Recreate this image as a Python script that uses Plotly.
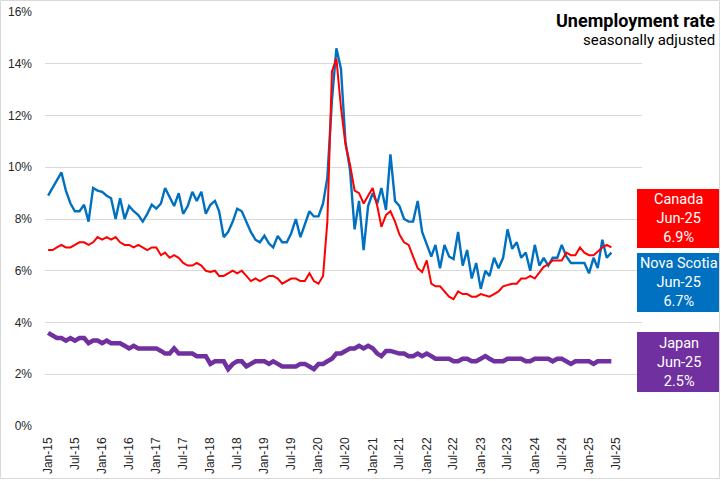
import pandas as pd
import plotly.graph_objects as go

start_month = "2015-01-01"

canada = [6.8, 6.8, 6.9, 7.0, 6.9, 6.9, 7.0, 7.1, 7.1, 7.0, 7.1, 7.3,
          7.2, 7.3, 7.2, 7.3, 7.1, 7.0, 7.0, 6.9, 7.0, 6.9, 6.8, 6.9,
          6.9, 6.6, 6.7, 6.5, 6.6, 6.5, 6.3, 6.2, 6.2, 6.3, 6.2, 6.0,
          5.95, 6.0, 5.8, 5.8, 5.9, 6.0, 5.9, 6.0, 5.8, 5.6, 5.7, 5.6,
          5.7, 5.8, 5.8, 5.7, 5.5, 5.6, 5.7, 5.7, 5.6, 5.6, 5.9, 5.6,
          5.5, 5.8, 7.9, 13.7, 14.2, 12.3, 10.9, 10.1, 9.1, 9.0, 8.6, 8.9,
          9.2, 8.5, 7.7, 8.15, 8.3, 7.9, 7.4, 7.1, 7.0, 6.55, 6.1, 5.95,
          6.4, 5.5, 5.4, 5.4, 5.2, 5.0, 4.9, 5.2, 5.1, 5.1, 5.0, 5.0,
          5.1, 5.05, 5.0, 5.1, 5.2, 5.4, 5.45, 5.5, 5.5, 5.7, 5.7, 5.8,
          5.7, 5.95, 6.15, 6.25, 6.4, 6.4, 6.4, 6.7, 6.6, 6.6, 6.9, 6.7,
          6.6, 6.6, 6.75, 6.9, 7.0, 6.9]

nova_scotia = [8.9, 9.2, 9.5, 9.8, 9.1, 8.6, 8.3, 8.3, 8.55, 7.9, 9.2, 9.1,
               9.05, 8.9, 8.8, 8.0, 8.8, 8.0, 8.5, 8.3, 8.15, 7.9, 8.2, 8.55,
               8.4, 8.6, 9.2, 8.85, 8.5, 9.0, 8.2, 8.5, 9.05, 8.7, 9.05, 8.2,
               8.55, 8.7, 8.3, 7.3, 7.5, 7.9, 8.4, 8.3, 7.9, 7.5, 7.2, 7.1,
               7.35, 7.05, 6.9, 7.35, 7.1, 7.1, 7.45, 8.0, 7.3, 7.8, 8.3, 8.1,
               8.1, 8.6, 9.6, 12.6, 14.6, 13.8, 11.0, 9.9, 7.6, 8.7, 6.8, 8.5,
               9.0, 8.6, 9.2, 8.35, 10.5, 8.7, 8.5, 8.0, 7.9, 7.9, 8.7, 7.5,
               7.0, 6.55, 7.0, 6.1, 7.0, 6.55, 6.45, 7.5, 6.2, 6.8, 5.7, 6.3,
               5.3, 6.0, 5.8, 6.5, 6.1, 6.5, 7.6, 6.85, 7.1, 6.5, 6.7, 6.0,
               7.0, 6.2, 6.5, 6.2, 6.5, 6.5, 7.0, 6.55, 6.3, 6.3, 6.3, 6.3,
               5.9, 6.5, 6.1, 7.2, 6.5, 6.7]

japan = [3.6, 3.5, 3.4, 3.4, 3.3, 3.4, 3.3, 3.4, 3.4, 3.2, 3.3, 3.3,
         3.2, 3.3, 3.2, 3.2, 3.2, 3.1, 3.0, 3.1, 3.0, 3.0, 3.0, 3.0,
         3.0, 2.9, 2.8, 2.8, 3.0, 2.8, 2.8, 2.8, 2.8, 2.7, 2.7, 2.7,
         2.4, 2.5, 2.5, 2.5, 2.2, 2.4, 2.5, 2.5, 2.3, 2.4, 2.5, 2.5,
         2.5, 2.4, 2.5, 2.4, 2.3, 2.3, 2.3, 2.3, 2.4, 2.4, 2.3, 2.2,
         2.4, 2.4, 2.5, 2.6, 2.8, 2.8, 2.9, 3.0, 3.0, 3.1, 3.0, 3.1,
         3.0, 2.8, 2.7, 2.9, 2.9, 2.85, 2.8, 2.8, 2.7, 2.7, 2.8, 2.7,
         2.8, 2.7, 2.6, 2.6, 2.6, 2.6, 2.5, 2.5, 2.6, 2.6, 2.5, 2.5,
         2.6, 2.7, 2.6, 2.5, 2.5, 2.5, 2.6, 2.6, 2.6, 2.6, 2.5, 2.5,
         2.6, 2.6, 2.6, 2.6, 2.5, 2.6, 2.6, 2.5, 2.4, 2.5, 2.5, 2.5,
         2.5, 2.4, 2.5, 2.5, 2.5, 2.5]

y_ticks = [0, 2, 4, 6, 8, 10, 12, 14, 16]
y_tick_text = [f"{v}%" for v in y_ticks]

labels = [
    ("Canada", "Jun-25", "6.9%", "#FF0000", 189, 248),
    ("Nova Scotia", "Jun-25", "6.7%", "#0070C0", 253, 312),
    ("Japan", "Jun-25", "2.5%", "#7030A0", 332, 392),
]

months = pd.date_range(start_month, periods=len(canada), freq="MS")

W, H = 721, 481
L, R, T, B = 45, 642, 12, 426  # plot area in pixels


def px_x(p):
    return (p - L) / (R - L)


def px_y(p):
    return (B - p) / (B - T)


fig = go.Figure()
fig.add_trace(go.Scatter(x=months, y=nova_scotia, mode="lines", name="Nova Scotia",
                         line=dict(color="#0070C0", width=2.4)))
fig.add_trace(go.Scatter(x=months, y=canada, mode="lines", name="Canada",
                         line=dict(color="#FF0000", width=2.0)))
fig.add_trace(go.Scatter(x=months, y=japan, mode="lines", name="Japan",
                         line=dict(color="#7030A0", width=4.5)))

shapes = []
annotations = []
for name, month, val, color, top, bottom in labels:
    shapes.append(dict(type="rect", xref="paper", yref="paper",
                       x0=px_x(637), x1=px_x(720), y0=px_y(bottom), y1=px_y(top),
                       fillcolor=color, line=dict(width=0), layer="above"))
    annotations.append(dict(xref="paper", yref="paper", x=px_x(678.5),
                            y=px_y((top + bottom) / 2), xanchor="center", yanchor="middle",
                            text=f"{name}<br>{month}<br>{val}", showarrow=False,
                            font=dict(family="Roboto", size=14.5, color="white"),
                            align="center"))

# chart border
shapes.append(dict(type="rect", xref="paper", yref="paper",
                   x0=px_x(0.5), x1=px_x(719.5), y0=px_y(478.5), y1=px_y(0.5),
                   line=dict(color="#D9D9D9", width=1), fillcolor="rgba(0,0,0,0)"))

annotations.append(dict(xref="paper", yref="paper", x=px_x(717), y=px_y(21),
                        xanchor="right", yanchor="middle", showarrow=False,
                        text="<b>Unemployment rate</b>",
                        font=dict(family="Roboto", size=18, color="black")))
annotations.append(dict(xref="paper", yref="paper", x=px_x(717), y=px_y(40),
                        xanchor="right", yanchor="middle", showarrow=False,
                        text="seasonally adjusted",
                        font=dict(family="Roboto", size=15, color="black")))

fig.update_layout(
    width=W, height=H,
    margin=dict(l=L, r=W - R, t=T, b=H - B, pad=0, autoexpand=False),
    paper_bgcolor="white", plot_bgcolor="white",
    showlegend=False, hovermode=False,
    shapes=shapes, annotations=annotations,
    font=dict(family="Liberation Sans", size=12, color="#404040"),
)
fig.update_xaxes(
    type="date", range=["2014-12-11", "2025-12-25"],
    tick0="2015-01-01", dtick="M6", tickformat="%b-%y", tickangle=-90,
    showgrid=False, zeroline=False, showline=False, ticks="",
    ticklabelstandoff=8, automargin=False,
    tickfont=dict(family="Liberation Sans", size=12, color="#262626"),
)
fig.update_yaxes(
    range=[0, 16], tickmode="array", tickvals=y_ticks, ticktext=y_tick_text,
    showgrid=True, gridcolor="#D9D9D9", gridwidth=1,
    zeroline=False, showline=False, ticks="",
    ticklabelstandoff=12, automargin=False,
    tickfont=dict(family="Liberation Sans", size=12, color="#262626"),
)

fig.write_html("out.html", config={"displayModeBar": False},
               post_script="document.body.style.margin='0';")
